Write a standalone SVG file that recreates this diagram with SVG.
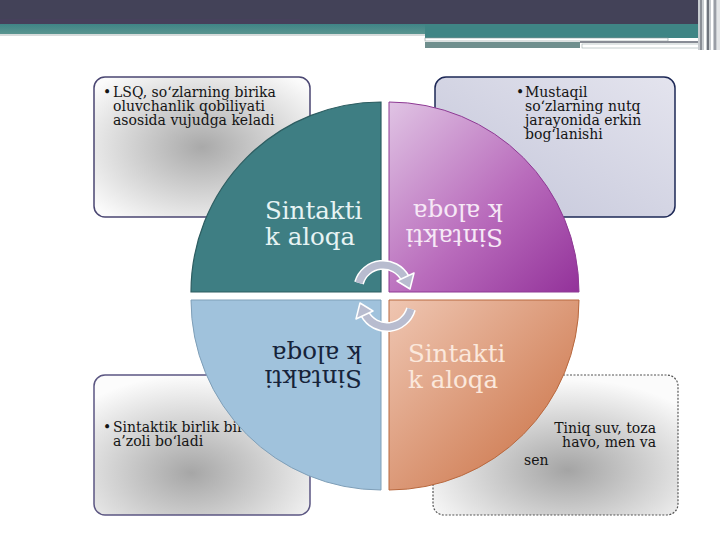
<svg xmlns="http://www.w3.org/2000/svg" width="720" height="540" viewBox="0 0 720 540">
<defs>
<radialGradient id="gGray1" cx="0.5" cy="0.5" r="0.65">
<stop offset="0" stop-color="#a9a9a9"/>
<stop offset="1" stop-color="#fbfbfb"/>
</radialGradient>
<radialGradient id="gGray2" cx="0.45" cy="0.7" r="0.7">
<stop offset="0" stop-color="#a6a6a6"/>
<stop offset="1" stop-color="#fcfcfc"/>
</radialGradient>
<radialGradient id="gGray3" cx="0.55" cy="0.68" r="0.65">
<stop offset="0" stop-color="#a4a4a4"/>
<stop offset="1" stop-color="#fbfbfb"/>
</radialGradient>
<linearGradient id="gBlue" x1="1" y1="0" x2="0" y2="1">
<stop offset="0" stop-color="#e4e4ee"/>
<stop offset="1" stop-color="#c3c5d9"/>
</linearGradient>
<linearGradient id="gPurple" x1="0" y1="0" x2="1" y2="1">
<stop offset="0" stop-color="#e0c4e4"/>
<stop offset="0.55" stop-color="#b96cbc"/>
<stop offset="1" stop-color="#93329a"/>
</linearGradient>
<linearGradient id="gOrange" x1="0" y1="0" x2="1" y2="1">
<stop offset="0" stop-color="#efc6b2"/>
<stop offset="1" stop-color="#c86c3e"/>
</linearGradient>
<linearGradient id="gTealBand" x1="0" y1="0" x2="0" y2="1">
<stop offset="0" stop-color="#3f8486"/>
<stop offset="1" stop-color="#5a9590"/>
</linearGradient>
</defs>
<style>
.box{stroke-width:1.5}
.bt{font-family:"DejaVu Serif","Liberation Serif",serif;font-size:14px;fill:#141414}
.qt{font-family:"DejaVu Serif","Liberation Serif",serif;font-size:24.5px}
.arc{fill:none;stroke:#b8bccf;stroke-width:7}
.arcw{fill:none;stroke:#ffffff;stroke-width:10}
</style>
<rect width="720" height="540" fill="#ffffff"/>
<g id="header">
<rect x="0" y="0" width="720" height="24" fill="#434258"/>
<rect x="0" y="19" width="300" height="5" fill="#4a3f5e" opacity="0.6"/>
<rect x="0" y="24" width="720" height="10" fill="url(#gTealBand)"/>
<rect x="0" y="34" width="425" height="2" fill="#d8dcdc"/>
<rect x="425" y="24" width="280" height="14" fill="#3f8585"/>
<rect x="425" y="38" width="243" height="3" fill="#ffffff" stroke="#8a9a9a" stroke-width="0.6"/>
<rect x="425" y="42" width="155" height="6" fill="#6f8f8e"/>
<rect x="580" y="41" width="125" height="2" fill="#888c95"/>
<rect x="582" y="44" width="123" height="4" fill="#ffffff" stroke="#9aa" stroke-width="0.6"/>
<rect x="698" y="0" width="22" height="50" fill="#c8ccd0"/>
<rect x="700" y="0" width="2" height="50" fill="#8a8e96"/>
<rect x="704" y="0" width="2" height="50" fill="#ffffff"/>
<rect x="707" y="0" width="2" height="50" fill="#6f737c"/>
<rect x="711" y="0" width="2" height="50" fill="#ffffff"/>
<rect x="714" y="0" width="2" height="50" fill="#9a9ea6"/>
<rect x="717" y="0" width="3" height="50" fill="#e4e6e8"/>
</g>
<g id="box-tl">
<rect class="box" x="94" y="77" width="216" height="140" rx="11" fill="url(#gGray1)" stroke="#4a4672"/>
<text class="bt" x="103" y="97" font-size="9">•</text>
<text class="bt" x="113" y="97">LSQ, so‘zlarning birika</text>
<text class="bt" x="113" y="111">oluvchanlik qobiliyati</text>
<text class="bt" x="113" y="125">asosida vujudga keladi</text>
</g>
<g id="box-tr">
<rect class="box" x="435" y="77" width="240" height="140" rx="11" fill="url(#gBlue)" stroke="#1d2856"/>
<text class="bt" x="516" y="97" font-size="9">•</text>
<text class="bt" x="525" y="97" fill="#1e1a48">Mustaqil</text>
<text class="bt" x="525" y="111">so‘zlarning nutq</text>
<text class="bt" x="525" y="125">jarayonida erkin</text>
<text class="bt" x="525" y="139" fill="#1e1a48">bog‘lanishi</text>
</g>
<g id="box-bl">
<rect class="box" x="94" y="375" width="216" height="140" rx="11" fill="url(#gGray2)" stroke="#5b5682"/>
<text class="bt" x="103" y="432" font-size="9">•</text>
<text class="bt" x="113" y="432">Sintaktik birlik bir</text>
<text class="bt" x="113" y="446">a’zoli bo‘ladi</text>
</g>
<g id="box-br">
<rect x="433" y="375" width="245" height="140" rx="11" fill="url(#gGray3)" stroke="#555" stroke-width="1.2" stroke-dasharray="2 1.5"/>
<text class="bt" x="656" y="433" text-anchor="end">Tiniq suv, toza</text>
<text class="bt" x="656" y="447" text-anchor="end">havo, men va</text>
<text class="bt" x="524" y="465">sen</text>
</g>
<g id="q-tl">
<path d="M381,292 L191,292 A190,190 0 0 1 381,102 Z" fill="#3e7e83" stroke="#2d5d61" stroke-width="1.2"/>
<text class="qt" x="265" y="219" fill="#e6f3f3">Sintakti</text>
<text class="qt" x="265" y="245" fill="#e6f3f3">k aloqa</text>
</g>
<g id="q-tr">
<path d="M389,292 L389,102 A190,190 0 0 1 579,292 Z" fill="url(#gPurple)" stroke="#8e3a94" stroke-width="1"/>
<text class="qt" transform="translate(503,229) rotate(180)" fill="#f6e8f6">Sintakti</text>
<text class="qt" transform="translate(503,204) rotate(180)" fill="#f6e8f6">k aloqa</text>
</g>
<g id="q-bl">
<path d="M381,300 L381,490 A190,190 0 0 1 191,300 Z" fill="#a0c2dc" stroke="#7f9fb8" stroke-width="1"/>
<text class="qt" transform="translate(362,370) rotate(180)" fill="#16233a">Sintakti</text>
<text class="qt" transform="translate(362,346) rotate(180)" fill="#16233a">k aloqa</text>
</g>
<g id="q-br">
<path d="M389,300 L579,300 A190,190 0 0 1 389,490 Z" fill="url(#gOrange)" stroke="#b8683e" stroke-width="1"/>
<text class="qt" x="408" y="362" fill="#fbe8dc">Sintakti</text>
<text class="qt" x="408" y="388" fill="#fbe8dc">k aloqa</text>
</g>
<g id="connectors">
<g id="arrow-top">
<path class="arcw" d="M359,283 A25,25 0 0 1 405,278"/>
<path class="arc" d="M359,283 A25,25 0 0 1 405,278"/>
<polygon points="414,273 397,281 410,289" fill="#b8bccf" stroke="#ffffff" stroke-width="1.5" stroke-linejoin="round"/>
</g>
<g id="arrow-bottom" transform="rotate(180,385,296)">
<path class="arcw" d="M359,283 A25,25 0 0 1 405,278"/>
<path class="arc" d="M359,283 A25,25 0 0 1 405,278"/>
<polygon points="414,273 397,281 410,289" fill="#b8bccf" stroke="#ffffff" stroke-width="1.5" stroke-linejoin="round"/>
</g>
</g>
</svg>
